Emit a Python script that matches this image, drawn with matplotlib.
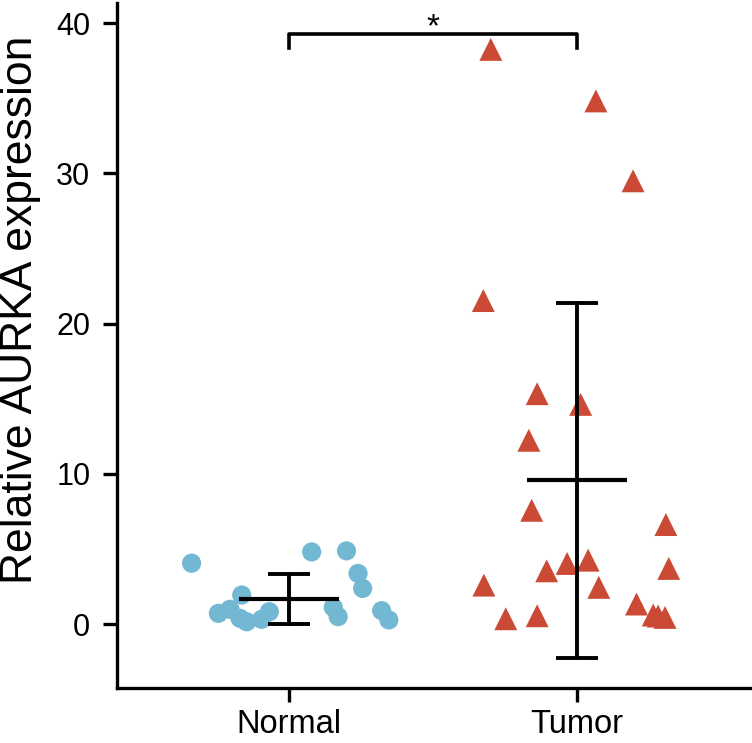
import matplotlib
matplotlib.use("Agg")
import matplotlib.pyplot as plt

plt.rcParams["font.family"] = ["Liberation Sans", "DejaVu Sans"]

groups = ["Normal", "Tumor"]

# jitter offsets from group centre and values
normal_dx = [-0.338, -0.164, -0.245, -0.205, -0.170, -0.147, -0.095, -0.068,
             0.079, 0.200, 0.240, 0.256, 0.154, 0.171, 0.322, 0.347]
normal_y = [4.05, 1.93, 0.71, 0.98, 0.38, 0.15, 0.31, 0.82,
            4.80, 4.87, 3.37, 2.37, 1.11, 0.49, 0.89, 0.27]

tumor_dx = [-0.299, 0.066, 0.195, -0.325, -0.138, 0.013, -0.167, -0.157,
            0.309, -0.034, 0.039, -0.105, 0.319, -0.323, 0.076, 0.207,
            -0.247, -0.138, 0.265, 0.282, 0.306]
tumor_y = [38.25, 34.82, 29.5, 21.53, 15.33, 14.62, 12.23, 7.57,
           6.62, 4.03, 4.25, 3.54, 3.70, 2.59, 2.44, 1.33,
           0.35, 0.55, 0.60, 0.53, 0.44]

means = [1.66, 9.57]
sds = [1.64, 11.8]

blue = "#72B8D2"
red = "#CB4A36"

fig = plt.figure(figsize=(7.52, 7.43), dpi=100)
ax = fig.add_axes([0.1552, 0.0736, 0.8448, 0.922])

ax.scatter([0 + d for d in normal_dx], normal_y, s=13.8**2, marker="o",
           color=blue, edgecolors="none", zorder=2, clip_on=False)
ax.scatter([1 + d for d in tumor_dx], tumor_y, s=16.5**2, marker="^",
           color=red, edgecolors="none", zorder=2, clip_on=False)

for i, (m, sd) in enumerate(zip(means, sds)):
    ax.plot([i - 0.174, i + 0.174], [m, m], color="black", lw=3.0,
            solid_capstyle="butt", zorder=3)
    ax.plot([i, i], [m - sd, m + sd], color="black", lw=2.8, zorder=3)
    for yy in (m - sd, m + sd):
        ax.plot([i - 0.073, i + 0.073], [yy, yy], color="black", lw=2.8,
                solid_capstyle="butt", zorder=3)

# significance bracket
ax.plot([0, 0, 1, 1], [38.37, 39.27, 39.27, 38.37], color="black", lw=2.6,
        zorder=3, clip_on=False)
ax.text(0.5, 39.1, "*", ha="center", va="baseline", fontsize=24,
        clip_on=False)

ax.set_xlim(-0.598, 1.608)
ax.set_ylim(-4.28, 41.32)
ax.set_xticks([0, 1])
ax.set_xticklabels(groups)
ax.set_yticks([0, 10, 20, 30, 40])

for side in ("top", "right"):
    ax.spines[side].set_visible(False)
for side in ("left", "bottom"):
    ax.spines[side].set_linewidth(2.4)

ax.tick_params(axis="both", direction="out", length=10, width=2.4)
ax.tick_params(axis="y", labelsize=22, pad=9)
ax.tick_params(axis="x", labelsize=23.5, pad=5)

ax.set_ylabel("Relative AURKA expression", fontsize=32)
ax.yaxis.set_label_coords(-0.119, 0.552)

fig.savefig("out.png", dpi=100)
